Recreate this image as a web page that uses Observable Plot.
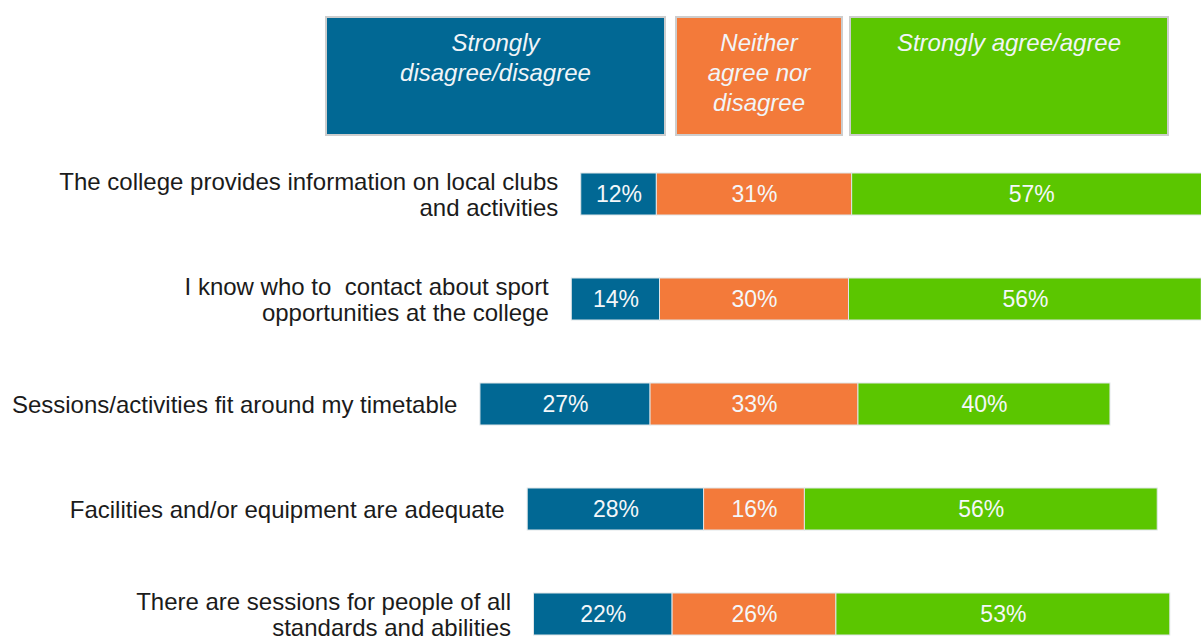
<!DOCTYPE html>
<html>
<head>
<meta charset="utf-8">
<script src="https://cdn.jsdelivr.net/npm/d3@7"></script>
<script src="https://cdn.jsdelivr.net/npm/@observablehq/plot@0.6"></script>
<style>
  body { margin: 0; background: #fff; font-family: "Liberation Sans", Arial, sans-serif; }
  #wrap { position: relative; width: 1201px; height: 641px; overflow: hidden; background: #fff; }
  #legend { position: relative; height: 150px; }
  .box { position: absolute; top: 16px; height: 120px; box-sizing: border-box; border: 2px solid #cdcdcd;
         color: #f1f5f8; font-style: italic; font-size: 24px; line-height: 30px; text-align: center;
         padding-top: 10px; white-space: pre-line; }
</style>
</head>
<body>
<div id="wrap">
  <div id="legend"></div>
  <div id="chart"></div>
</div>
<script>
// ---- data ----
const categories = [
  "The college provides information on local clubs\nand activities",
  "I know who to  contact about sport\nopportunities at the college",
  "Sessions/activities fit around my timetable",
  "Facilities and/or equipment are adequate",
  "There are sessions for people of all\nstandards and abilities"
];
const disagree = [12, 14, 27, 28, 22];
const neutral  = [31, 30, 33, 16, 26];
const agree    = [57, 56, 40, 56, 53];
const responses = ["Strongly disagree/disagree", "Neither agree nor disagree", "Strongly agree/agree"];
const legendLabels = ["Strongly\ndisagree/disagree", "Neither\nagree nor\ndisagree", "Strongly agree/agree"];
const colors = ["#016894", "#f37a3a", "#5bc600"];

// ---- legend (header boxes) ----
const legendLayout = [{left: 325, width: 341}, {left: 675, width: 168}, {left: 849, width: 320}];
const legend = document.getElementById("legend");
legendLabels.forEach((t, i) => {
  const d = document.createElement("div");
  d.className = "box";
  d.style.left = legendLayout[i].left + "px";
  d.style.width = legendLayout[i].width + "px";
  d.style.background = colors[i];
  d.textContent = t;
  legend.appendChild(d);
});

// ---- table: diverging stack centred on the middle of the neutral segment ----
const rows = [];
const starts = [];
categories.forEach((c, i) => {
  const vals = [disagree[i], neutral[i], agree[i]];
  let x = -(disagree[i] + neutral[i] / 2);
  starts.push({category: c, start: x});
  vals.forEach((v, k) => {
    rows.push({category: c, response: responses[k], value: v, x1: x, x2: x + v});
    x += v;
  });
});

const pxPerUnit = 6.3;
const chart = Plot.plot({
  width: 1201,
  height: 491,
  marginLeft: 0,
  marginRight: 0,
  marginTop: 23,
  marginBottom: 5,
  x: {domain: [-754 / pxPerUnit, 447 / pxPerUnit], axis: null},
  y: {domain: categories, axis: null, paddingInner: 0.6, paddingOuter: 0},
  color: {domain: responses, range: colors},
  style: {fontFamily: "'Liberation Sans', Arial, sans-serif", background: "white"},
  marks: [
    Plot.barX(rows, {x1: "x1", x2: "x2", y: "category", fill: "response", stroke: "#dfe5e8", strokeWidth: 1}),
    Plot.text(rows, {x: d => (d.x1 + d.x2) / 2, y: "category", text: d => d.value + "%",
                     fill: "#f4f7f9", fontSize: 23}),
    Plot.text(starts, {x: "start", y: "category", text: "category", textAnchor: "end", dx: -23,
                       fontSize: 24, fill: "#1b1b1b", lineHeight: 1.1})
  ]
});
document.getElementById("chart").appendChild(chart);
</script>
</body>
</html>
